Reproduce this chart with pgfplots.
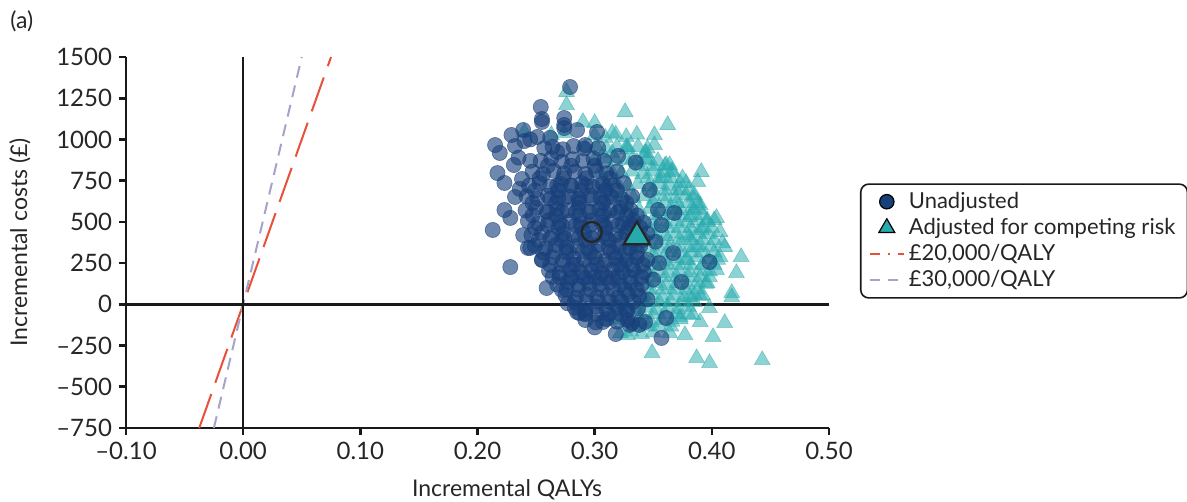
\documentclass[border=0pt]{standalone}
\usepackage{pgfplots}
\pgfplotsset{compat=1.18}
\usepackage{fontspec}
\setmainfont{Lato}
\definecolor{ublue}{HTML}{173F7A}
\definecolor{ateal}{HTML}{27AAAD}
\definecolor{wtpred}{HTML}{E8503A}
\definecolor{wtppurp}{HTML}{A3A3CC}

\pgfplotstableread{
x y
0.292 -95
0.301 -110
0.310 -90
0.319 -105
0.328 -95
0.283 -20
0.292 -35
0.301 -15
0.310 -30
0.319 -20
0.328 -35
0.337 -25
0.275 55
0.284 40
0.293 60
0.302 45
0.311 55
0.320 40
0.329 60
0.338 50
0.268 120
0.277 135
0.286 115
0.295 130
0.304 120
0.313 135
0.322 115
0.331 130
0.340 120
0.261 205
0.270 190
0.279 210
0.288 195
0.297 205
0.306 190
0.315 210
0.324 195
0.333 205
0.342 195
0.255 270
0.264 285
0.273 265
0.282 280
0.291 270
0.300 285
0.309 265
0.318 280
0.327 270
0.336 285
0.345 270
0.249 355
0.258 340
0.267 360
0.276 345
0.285 355
0.294 340
0.303 360
0.312 345
0.321 355
0.330 340
0.339 355
0.246 420
0.255 435
0.264 415
0.273 430
0.282 420
0.291 435
0.300 415
0.309 430
0.318 420
0.327 435
0.336 415
0.345 430
0.243 505
0.252 490
0.261 510
0.270 495
0.279 505
0.288 490
0.297 510
0.306 495
0.315 505
0.324 490
0.333 510
0.342 495
0.241 570
0.250 585
0.259 565
0.268 580
0.277 570
0.286 585
0.295 565
0.304 580
0.313 570
0.322 585
0.331 570
0.242 655
0.251 640
0.260 660
0.269 645
0.278 655
0.287 640
0.296 660
0.305 645
0.314 655
0.323 640
0.332 655
0.244 720
0.253 735
0.262 715
0.271 730
0.280 720
0.289 735
0.298 715
0.307 730
0.316 720
0.325 735
0.247 805
0.256 790
0.265 810
0.274 795
0.283 805
0.292 790
0.301 810
0.310 795
0.319 805
0.254 870
0.263 885
0.272 865
0.281 880
0.290 870
0.299 885
0.308 870
0.264 955
0.273 940
0.282 960
0.291 945
0.280 160
0.292 160
0.304 160
0.316 160
0.272 240
0.284 240
0.296 240
0.308 240
0.320 240
0.332 240
0.266 320
0.278 320
0.290 320
0.302 320
0.314 320
0.326 320
0.262 400
0.274 400
0.286 400
0.298 400
0.310 400
0.322 400
0.334 400
0.260 480
0.272 480
0.284 480
0.296 480
0.308 480
0.320 480
0.332 480
0.260 560
0.272 560
0.284 560
0.296 560
0.308 560
0.320 560
0.262 640
0.274 640
0.286 640
0.298 640
0.310 640
0.268 720
0.280 720
0.292 720
0.304 720
0.292 -60
0.302 -60
0.312 -60
0.322 -60
0.283 15
0.293 15
0.303 15
0.313 15
0.323 15
0.333 15
0.276 90
0.286 90
0.296 90
0.306 90
0.316 90
0.326 90
0.336 90
0.270 165
0.280 165
0.290 165
0.300 165
0.310 165
0.320 165
0.330 165
0.340 165
0.262 240
0.282 240
0.302 240
0.322 240
0.341 240
0.256 315
0.276 315
0.296 315
0.316 315
0.336 315
0.252 390
0.272 390
0.292 390
0.312 390
0.332 390
0.341 390
0.249 465
0.269 465
0.289 465
0.309 465
0.329 465
0.339 465
0.247 540
0.267 540
0.287 540
0.307 540
0.327 540
0.336 540
0.247 615
0.267 615
0.287 615
0.307 615
0.327 615
0.249 690
0.269 690
0.289 690
0.309 690
0.319 690
0.253 765
0.273 765
0.293 765
0.313 765
0.260 840
0.280 840
0.300 840
0.279 1318
0.254 1197
0.255 1124
0.274 1130
0.274 1069
0.285 1057
0.302 1045
0.303 948
0.292 966
0.215 966
0.219 918
0.229 1027
0.239 1057
0.251 1015
0.257 948
0.217 796
0.231 845
0.223 572
0.228 524
0.213 451
0.228 226
0.239 420
0.243 342
0.223 736
0.232 651
0.268 924
0.274 1088
0.255 1106
0.245 342
0.255 269
0.259 99
0.272 87
0.264 166
0.285 -47
0.307 -107
0.292 -53
0.330 -125
0.357 -204
0.287 -53
0.332 -113
0.343 -107
0.361 -83
0.277 6
0.327 -34
0.338 -125
0.368 554
0.347 693
0.354 572
0.357 481
0.367 311
0.398 257
0.374 135
0.245 1000
0.262 1010
0.240 990
0.235 890
0.245 870
0.232 960
0.352 380
0.355 250
0.350 150
0.345 30
0.318 -180
0.300 -140
0.335 860
0.320 900
0.238 760
0.236 700
}\unadj

\pgfplotstableread{
x y
0.300 1025
0.309 1010
0.318 1030
0.327 1015
0.336 1030
0.292 950
0.301 960
0.310 945
0.319 955
0.328 940
0.337 955
0.345 945
0.300 875
0.309 885
0.318 870
0.327 880
0.336 865
0.345 880
0.354 870
0.305 800
0.314 810
0.323 795
0.332 805
0.341 790
0.350 805
0.359 795
0.366 810
0.310 725
0.319 735
0.328 720
0.337 730
0.346 715
0.355 730
0.364 720
0.373 735
0.315 650
0.324 660
0.333 645
0.342 655
0.351 640
0.360 655
0.369 645
0.378 660
0.385 650
0.320 575
0.329 585
0.338 570
0.347 580
0.356 565
0.365 580
0.374 570
0.383 585
0.390 575
0.325 500
0.334 510
0.343 495
0.352 505
0.361 490
0.370 505
0.379 495
0.388 510
0.396 500
0.325 425
0.334 435
0.343 420
0.352 430
0.361 415
0.370 430
0.379 420
0.388 435
0.397 425
0.327 350
0.336 360
0.345 345
0.354 355
0.363 340
0.372 355
0.381 345
0.390 360
0.399 350
0.325 275
0.334 285
0.343 270
0.352 280
0.361 265
0.370 280
0.379 270
0.388 285
0.397 275
0.405 270
0.327 200
0.336 210
0.345 195
0.354 205
0.363 190
0.372 205
0.381 195
0.390 210
0.398 200
0.325 125
0.334 135
0.343 120
0.352 130
0.361 115
0.370 130
0.379 120
0.388 135
0.395 125
0.322 50
0.331 60
0.340 45
0.349 55
0.358 40
0.367 55
0.376 45
0.385 60
0.390 50
0.317 -25
0.326 -15
0.335 -30
0.344 -20
0.353 -35
0.362 -20
0.371 -30
0.380 -15
0.312 -100
0.321 -90
0.330 -105
0.339 -95
0.348 -110
0.357 -95
0.366 -105
0.373 -90
0.322 -175
0.331 -165
0.340 -180
0.350 -170
0.340 840
0.350 840
0.360 840
0.345 765
0.355 765
0.365 765
0.375 765
0.350 690
0.360 690
0.370 690
0.380 690
0.350 615
0.360 615
0.370 615
0.380 615
0.388 615
0.352 540
0.362 540
0.372 540
0.382 540
0.392 540
0.352 465
0.362 465
0.372 465
0.382 465
0.392 465
0.400 465
0.352 390
0.362 390
0.372 390
0.382 390
0.392 390
0.402 390
0.352 315
0.362 315
0.372 315
0.382 315
0.392 315
0.402 315
0.352 240
0.362 240
0.372 240
0.382 240
0.392 240
0.402 240
0.350 165
0.360 165
0.370 165
0.380 165
0.390 165
0.398 165
0.348 90
0.358 90
0.368 90
0.378 90
0.388 90
0.345 15
0.355 15
0.365 15
0.375 15
0.385 15
0.340 -60
0.350 -60
0.360 -60
0.370 -60
0.380 -60
0.335 -135
0.345 -135
0.355 -135
0.365 -135
0.3623 1088
0.351 1027
0.351 966
0.344 918
0.344 875
0.361 845
0.391 803
0.366 803
0.357 766
0.388 742
0.378 736
0.373 693
0.385 663
0.390 602
0.385 572
0.402 511
0.396 511
0.381 530
0.407 439
0.391 451
0.411 348
0.425 287
0.407 287
0.421 190
0.404 208
0.417 69
0.387 348
0.378 269
0.396 129
0.381 408
0.370 572
0.417 44
0.411 -113
0.401 -198
0.398 -356
0.387 -326
0.443 -338
0.349 -295
0.328 -186
0.377 -186
0.390 -107
0.384 -65
0.373 -77
0.364 -174
0.398 -22
0.392 57
0.381 44
0.276 1288
0.276 1209
0.326 1167
0.290 1106
0.263 1027
0.300 1100
0.315 1039
0.327 954
0.343 918
0.332 875
0.328 954
0.315 918
0.364 845
0.404 524
0.409 372
0.274 1039
0.240 1045
}\adj

\begin{document}
\begin{tikzpicture}
\path[use as bounding box] (0,0) rectangle (593.5pt,251pt);
\node[anchor=north west, inner sep=0pt, font=\fontsize{11.5}{13}\selectfont, text=black!85] at (5pt,246pt) {(a)};
\begin{axis}[
  at={(63pt,37pt)}, anchor=south west,
  scale only axis, width=351.5pt, height=185.5pt,
  xmin=-0.10, xmax=0.50, ymin=-750, ymax=1500,
  axis x line*=bottom, axis y line*=left,
  axis line style={-, line width=1.3pt, black!90},
  xtick={-0.1,0,0.1,0.2,0.3,0.4,0.5},
  xticklabels={–0.10,0.00,0.10,0.20,0.30,0.40,0.50},
  ytick={-750,-500,-250,0,250,500,750,1000,1250,1500},
  yticklabels={–750,–500,–250,0,250,500,750,1000,1250,1500},
  tick align=outside, major tick length=3.5pt,
  tick style={line width=1.3pt, black!90},
  ticklabel style={font=\fontsize{12}{14}\selectfont, text=black!85},
  xlabel={Incremental QALYs}, ylabel={Incremental costs (£)},
  label style={font=\fontsize{11.5}{13}\selectfont, text=black!85},
  xlabel style={at={(axis description cs:0.542,-0.167)}, anchor=center},
  ylabel style={at={(axis description cs:-0.151,0.5)}, anchor=center},
  clip=false,
  legend style={at={(1.044,0.504)}, anchor=west, draw=black!90, line width=0.8pt,
    rounded corners=4pt, font=\fontsize{11}{13}\selectfont, text=black!85,
    cells={anchor=west}, inner xsep=4pt, inner ysep=2pt, row sep=-0.5pt},
  legend cell align=left,
]
\addlegendimage{only marks, mark=*, mark size=3.6pt, mark options={fill=ublue, draw=black, line width=0.6pt}}
\addlegendentry{Unadjusted}
\addlegendimage{only marks, mark=triangle*, mark size=4.6pt, mark options={fill=ateal, draw=black, line width=0.6pt}}
\addlegendentry{Adjusted for competing risk}
\addlegendimage{wtpred, line width=1pt, dash pattern=on 5pt off 4pt on 1pt off 4pt}
\addlegendentry{£20,000/QALY}
\addlegendimage{wtppurp, line width=1pt, dash pattern=on 5pt off 4pt}
\addlegendentry{£30,000/QALY}

\addplot[forget plot, wtpred, line width=1pt, dash pattern=on 18pt off 6pt] coordinates {(-0.0375,-750) (0.075,1500)};
\addplot[forget plot, wtppurp, line width=1pt, dash pattern=on 6pt off 4pt] coordinates {(-0.025,-750) (0.05,1500)};

\addplot[forget plot, only marks, mark=triangle*, mark size=4.6pt,
  mark options={fill=ateal, draw=ateal, opacity=0.52, line width=0.3pt}] table {\adj};
\addplot[forget plot, only marks, mark=*, mark size=3.8pt,
  mark options={fill=ublue, draw=ublue, opacity=0.62, line width=0.3pt}] table {\unadj};

\addplot[forget plot, black!90, line width=1.3pt] coordinates {(-0.1,0) (0.5,0)};
\addplot[forget plot, black!90, line width=1.3pt] coordinates {(0,-750) (0,1500)};

\addplot[forget plot, only marks, mark=o, mark size=5pt, mark options={draw=black!85, line width=1.1pt}] coordinates {(0.2975,439)};
\addplot[forget plot, only marks, mark=triangle*, mark size=7.5pt, mark options={fill=ateal, draw=black!85, line width=1.1pt}] coordinates {(0.336,410)};
\end{axis}
\end{tikzpicture}
\end{document}
